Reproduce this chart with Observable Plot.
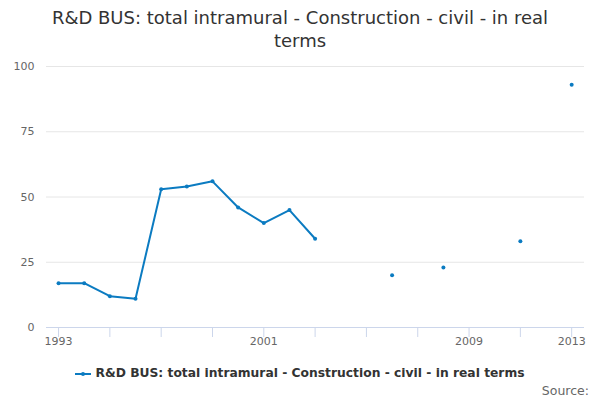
<!DOCTYPE html>
<html>
<head>
<meta charset="utf-8">
<script src="https://cdn.jsdelivr.net/npm/d3@7"></script>
<script src="https://cdn.jsdelivr.net/npm/@observablehq/plot@0.6"></script>
<style>
  body {
    margin: 0;
    padding: 0;
    background: #fff;
    font-family: "DejaVu Sans", sans-serif;
  }
  .wrap {
    position: relative;
    width: 600px;
    height: 400px;
  }
  .title {
    position: absolute;
    top: 6px;
    left: 40px;
    width: 520px;
    text-align: center;
    font-size: 18px;
    line-height: 23px;
    color: #333;
  }
  #chart {
    position: absolute;
    top: 50px;
    left: 0;
  }
  .legend {
    position: absolute;
    top: 366px;
    left: 0;
    width: 600px;
    text-align: center;
    font-size: 12.3px;
    font-weight: bold;
    color: #333;
  }
  .legend svg {
    vertical-align: middle;
    margin-right: 4px;
  }
  .source {
    position: absolute;
    top: 383px;
    right: 11px;
    font-size: 12.5px;
    color: #666;
  }
</style>
</head>
<body>
<div class="wrap">
  <div class="title">R&amp;D BUS: total intramural - Construction - civil - in real terms</div>
  <div id="chart"></div>
  <div class="legend"><svg width="16" height="10"><line x1="0" x2="16" y1="5" y2="5" stroke="#0b7bc1" stroke-width="2"/><circle cx="8" cy="5" r="2" fill="#0b7bc1"/></svg>R&amp;D BUS: total intramural - Construction - civil - in real terms</div>
  <div class="source">Source:</div>
</div>
<script>
  // values, gaps where a year has no figure
  const years = [1993, 1994, 1995, 1996, 1997, 1998, 1999, 2000, 2001, 2002, 2003,
                 2004, 2005, 2006, 2007, 2008, 2009, 2010, 2011, 2012, 2013]
  const values = [17, 17, 12, 11, 53, 54, 56, 46, 40, 45, 34,
                  null, null, 20, null, 23, null, null, 33, null, 93]
  const xTicks = [1993, 1995, 1997, 1999, 2001, 2003, 2005, 2007, 2009, 2011, 2013]
  const xLabels = [1993, 2001, 2009, 2013]
  const yTicks = [0, 25, 50, 75, 100]

  const blue = "#0b7bc1"
  const data = years.map((year, i) => ({year, value: values[i]}))

  const chart = Plot.plot({
    width: 600,
    height: 305,
    marginTop: 16,
    marginBottom: 28,
    marginLeft: 46,
    marginRight: 16,
    style: {fontFamily: "DejaVu Sans, sans-serif", fontSize: "11px", color: "#666"},
    x: {domain: [1992.53, 2013.5]},
    y: {domain: [0, 100]},
    marks: [
      Plot.gridY(yTicks, {stroke: "#e6e6e6", strokeOpacity: 1}),
      Plot.ruleY([0], {stroke: "#ccd6eb"}),
      Plot.axisY(yTicks, {tickSize: 0, tickPadding: 12, label: null, fill: "#666"}),
      Plot.axisX(xTicks, {
        tickSize: 10, stroke: "#ccd6eb", tickPadding: 0, label: null, fill: "#666",
        tickFormat: d => xLabels.includes(d) ? String(d) : ""
      }),
      Plot.line(data, {x: "year", y: "value", stroke: blue, strokeWidth: 2}),
      Plot.dot(data.filter(d => d.value != null), {x: "year", y: "value", r: 2, fill: blue})
    ]
  })
  document.querySelector("#chart").append(chart)
</script>
</body>
</html>
